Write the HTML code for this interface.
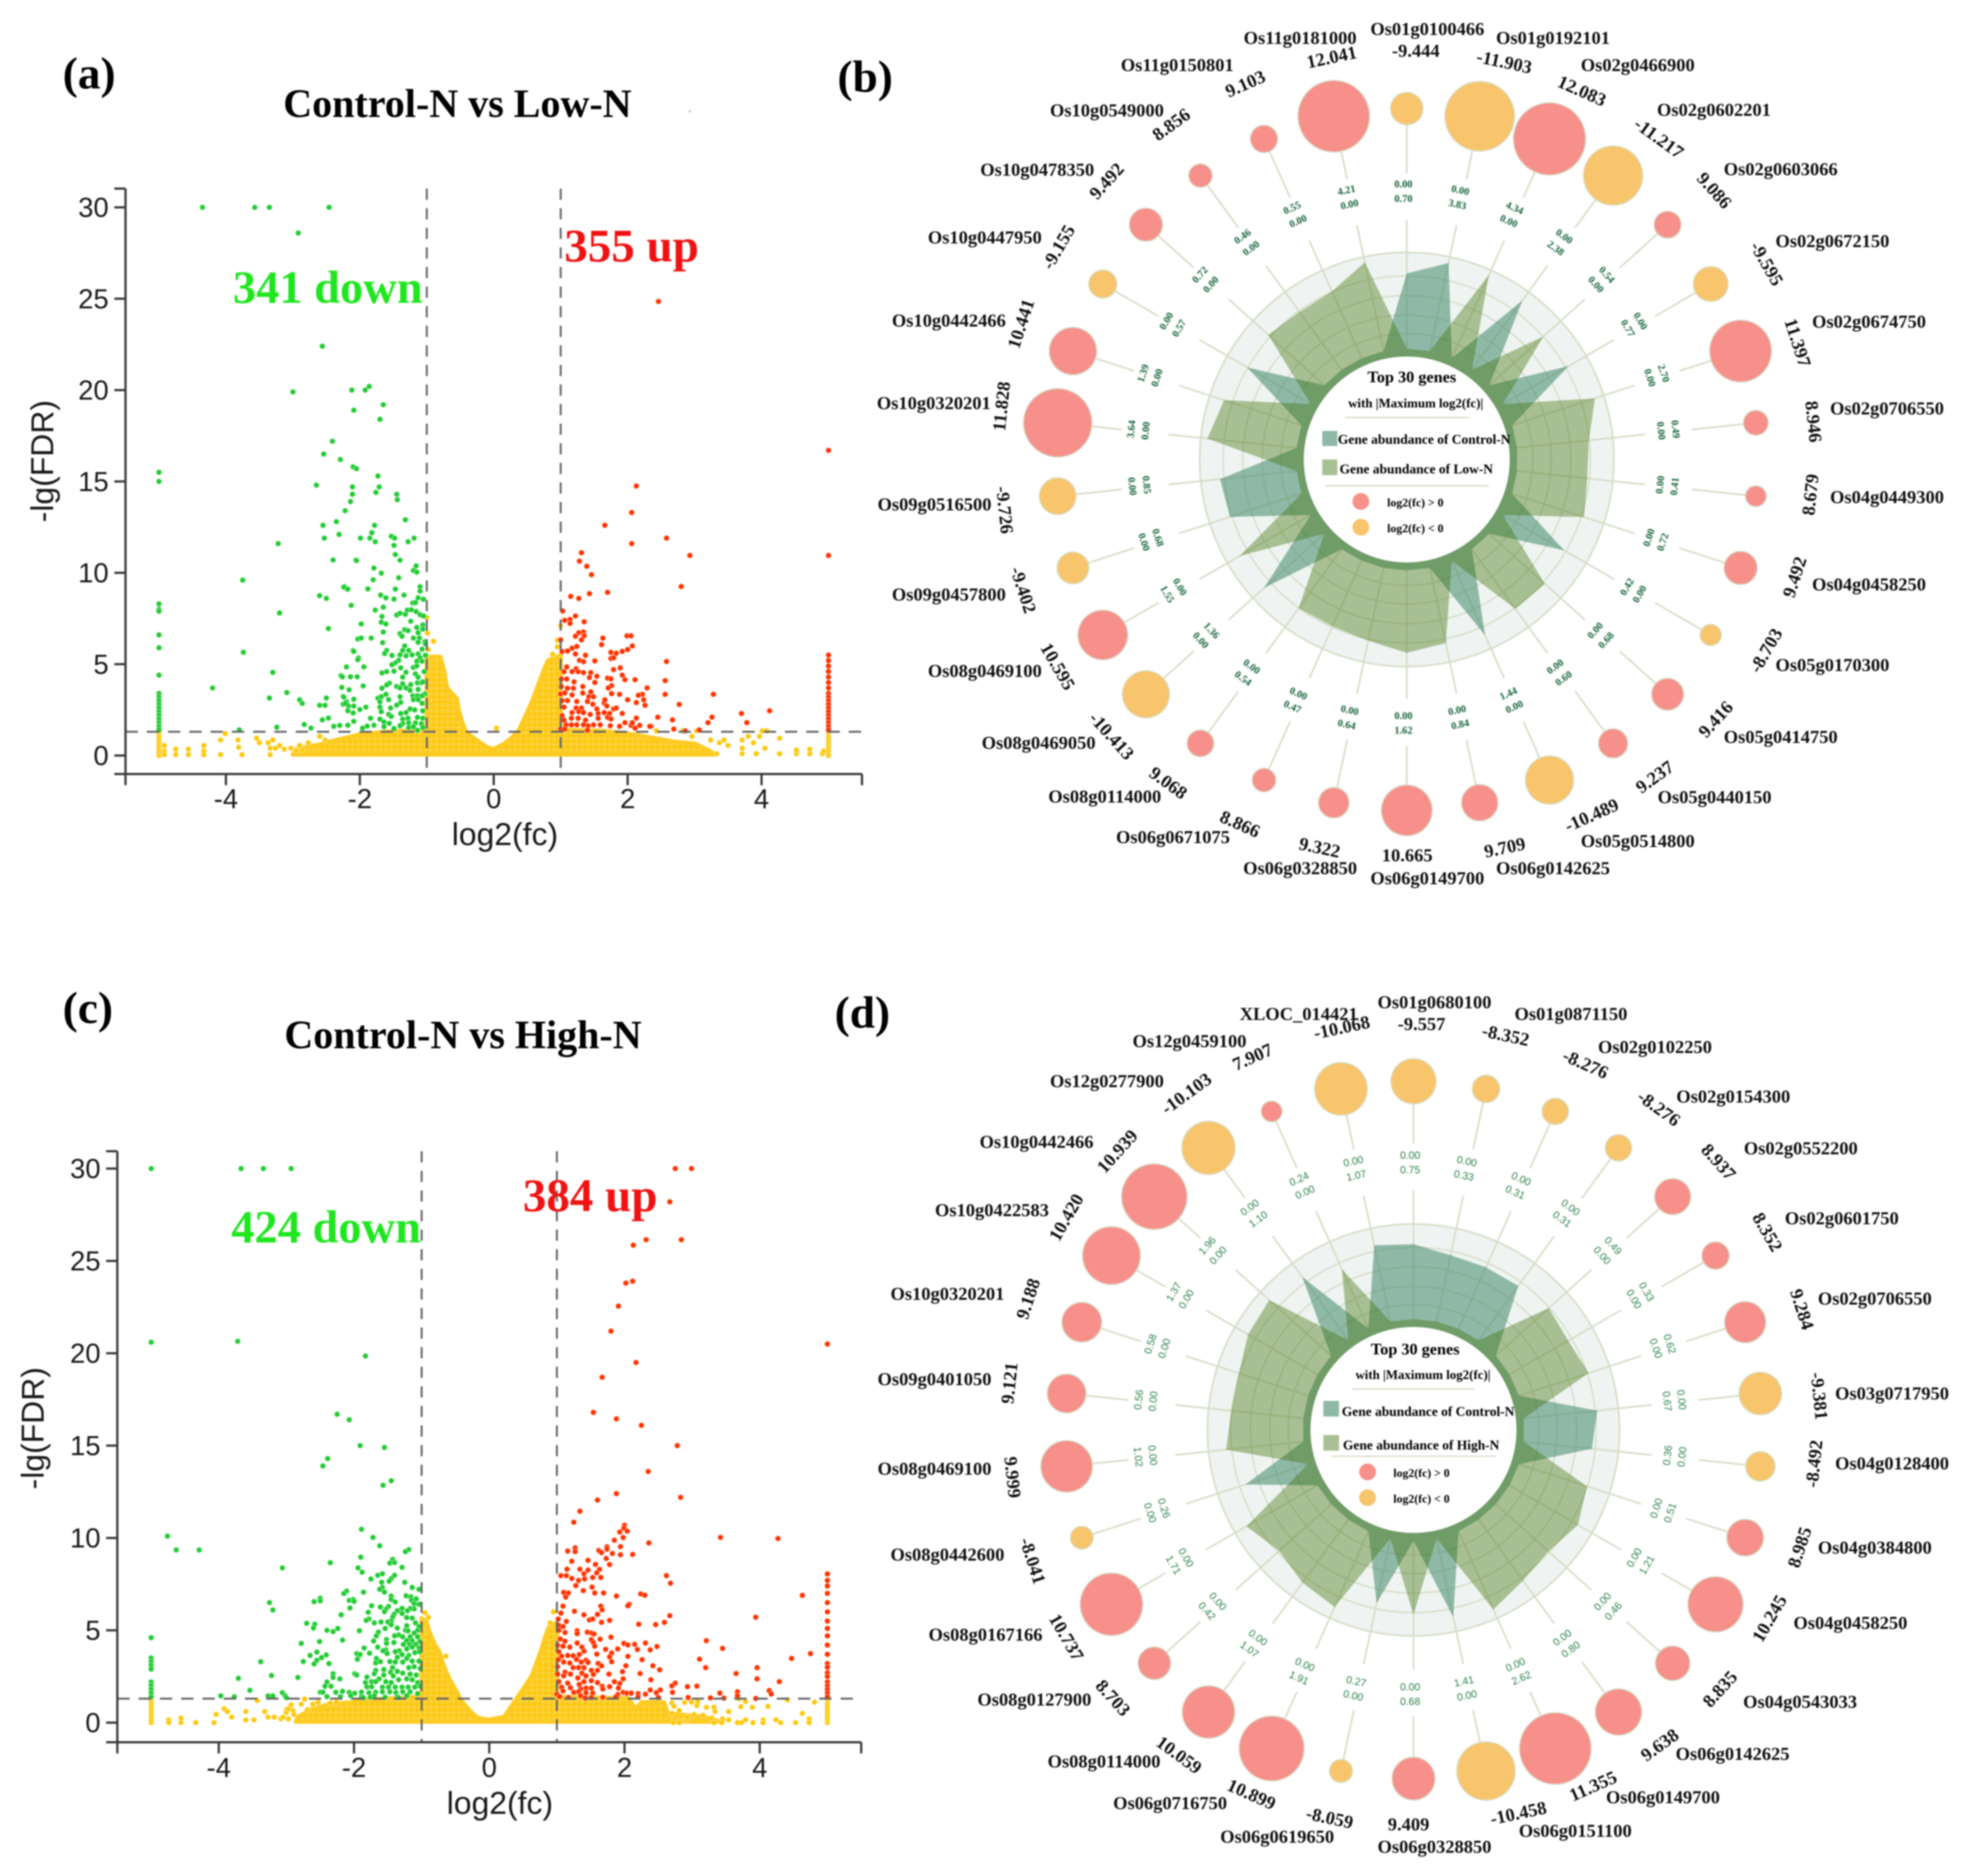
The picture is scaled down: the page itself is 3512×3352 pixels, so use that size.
<!DOCTYPE html>
<html lang="en">
<head>
<meta charset="utf-8">
<title>Volcano plots and radial gene charts</title>
<style>
html,body{margin:0;padding:0;background:#fff;}
svg{display:block;filter:blur(1.4px);}
.serif{font-family:"Liberation Serif",serif;font-weight:bold;}
.sans{font-family:"Liberation Sans",sans-serif;}
</style>
</head>
<body>
<svg id="root" xmlns="http://www.w3.org/2000/svg" width="3512" height="3352" viewBox="0 0 3512 3352">
<rect width="3512" height="3352" fill="#fff"/>
<defs>
<pattern id="yellowDots" patternUnits="userSpaceOnUse" width="10" height="10">
<rect width="10" height="10" fill="#fdd23f"/>
<circle cx="5" cy="5" r="4.2" fill="#fcc80f"/>
</pattern>
</defs>
<text class="serif" x="112" y="158" font-size="81">(a)</text>
<text class="serif" x="1496" y="164" font-size="81">(b)</text>
<text class="serif" x="112" y="1828" font-size="81">(c)</text>
<text class="serif" x="1491" y="1836" font-size="81">(d)</text>
<text class="serif" x="506" y="209" font-size="71.5">Control-N vs Low-N</text>
<text class="serif" x="508" y="1873" font-size="71.5">Control-N vs High-N</text>
<rect x="1230" y="198" width="4" height="2" fill="#999"/>
<g id="panelA"></g>
<g id="panelC"></g>
<g id="panelB"></g>
<g id="panelD"></g>
<text class="serif" x="1008" y="467" font-size="84" fill="#f01212">355 up</text>
<text class="serif" x="416" y="541" font-size="83" fill="#1fe61f">341 down</text>
<text class="serif" x="934" y="2164" font-size="84" fill="#f01212">384 up</text>
<text class="serif" x="413" y="2220" font-size="83" fill="#1fe61f">424 down</text>

<g id="legendB">
<text class="serif" x="2522" y="683" font-size="29" text-anchor="middle">Top 30 genes</text>
<text class="serif" x="2529" y="728" font-size="23" text-anchor="middle">with |Maximum log2(fc)|</text>
<line x1="2403" y1="746" x2="2624" y2="746" stroke="#d7dec8" stroke-width="2.5"/>
<rect x="2362" y="770" width="27" height="27" fill="#8fb9a7"/>
<text class="serif" x="2390" y="793" font-size="24">Gene abundance of Control-N</text>
<rect x="2362" y="821" width="27" height="28" fill="#a9c094"/>
<text class="serif" x="2393" y="846" font-size="24">Gene abundance of Low-N</text>
<line x1="2367" y1="868" x2="2660" y2="868" stroke="#d7dec8" stroke-width="2.5"/>
<circle cx="2431" cy="896" r="15" fill="#f7908a"/>
<text class="serif" x="2478" y="905" font-size="21">log2(fc) &gt; 0</text>
<circle cx="2431" cy="942" r="15" fill="#f8c56c"/>
<text class="serif" x="2478" y="951" font-size="21">log2(fc) &lt; 0</text>
</g>
<g id="legendD">
<text class="serif" x="2528" y="2420" font-size="29" text-anchor="middle">Top 30 genes</text>
<text class="serif" x="2542" y="2464" font-size="23" text-anchor="middle">with |Maximum log2(fc)|</text>
<line x1="2416" y1="2482" x2="2633" y2="2482" stroke="#d7dec8" stroke-width="2.5"/>
<rect x="2364" y="2503" width="28" height="28" fill="#8fb9a7"/>
<text class="serif" x="2397" y="2530" font-size="24">Gene abundance of Control-N</text>
<rect x="2364" y="2564" width="28" height="28" fill="#a9c094"/>
<text class="serif" x="2399" y="2590" font-size="24">Gene abundance of High-N</text>
<line x1="2378" y1="2602" x2="2672" y2="2602" stroke="#d7dec8" stroke-width="2.5"/>
<circle cx="2443" cy="2630" r="15" fill="#f7908a"/>
<text class="serif" x="2489" y="2639" font-size="21">log2(fc) &gt; 0</text>
<circle cx="2443" cy="2676" r="15" fill="#f8c56c"/>
<text class="serif" x="2489" y="2685" font-size="21">log2(fc) &lt; 0</text>
</g>
</svg>
<script>
/* ---------- shared tick labels ---------- */
const xTickValues=[-4,-2,0,2,4];
const yTickValues=[0,5,10,15,20,25,30];

/* ---------- panel (a) volcano values: [log2(fc), -lg(FDR)] ---------- */
const aDown=[[-4.35,30],[-3.57,30],[-3.35,30],[-2.46,30],[-2.92,28.6],[-2.56,22.4],[-3,19.9],[-2.12,20],[-1.92,20],[-1.86,20.2],[-2.09,18.9],[-1.65,19.2],[-1.7,18.4],[-2.41,17.2],[-2.54,16.5],[-2.29,16.2],[-2.1,15.8],[-2.05,15.7],[-2.65,14.8],[-1.73,15.3],[-2.11,14.7],[-1.71,14.7],[-1.76,14.4],[-1.45,14.3],[-1.44,14],[-2.11,14.3],[-2.14,13.9],[-2.22,13.4],[-2.35,12.8],[-2.55,12.6],[-1.78,12.6],[-1.32,12.9],[-3.22,11.6],[-2.53,11.9],[-2.31,12.1],[-1.99,11.9],[-1.82,12.2],[-1.85,11.9],[-1.77,11.7],[-1.53,12],[-1.48,11.9],[-1.49,11.5],[-1.28,11.7],[-1.19,11.9],[-2.4,10.7],[-2.06,10.7],[-1.47,11],[-3.75,9.6],[-2.6,8.75],[-2.5,8.6],[-3.2,7.8],[-2.23,9.25],[-2.19,9.1],[-2.47,6.95],
[-2.05,10.67],[-1.79,10.26],[-1.68,9.98],[-1.8,9.62],[-1.42,9.73],[-1.4,10.69],[-1.16,10.38],[-1.2,10.13],[-1.15,10.04],[-2.24,9.22],[-2.18,9.11],[-1.88,9.12],[-1.47,9.11],[-1.1,9.24],[-1.1,9],[-1.69,8.78],[-1.61,8.63],[-1.49,8.56],[-1.34,8.78],[-1.13,8.63],[-1.05,8.55],[-2.13,8.22],[-1.77,7.96],[-1.65,8.12],[-1.21,8.35],[-1.17,8.37],[-1.45,7.69],[-1.4,7.79],[-1.32,7.73],[-1.29,7.96],[-1.23,7.98],[-1.16,7.88],[-1.1,7.71],[-1.05,7.64],[-1.67,7.61],[-1.98,7.2],[-1.68,7.3],[-1.61,7.2],[-1.24,7.35],[-1.06,7.15],[-1.15,7.01],[-1.06,6.92],[-1.33,6.89],[-1.28,6.84],[-1.65,6.76],[-1.4,6.67],[-1.37,6.53],[-1.13,6.72],[-1.2,6.43],[-1.11,6.43],[-2.03,6.38],[-1.98,6.43],[-1.83,6.43],[-1.13,6.2],[-1.03,6.23],[-1.02,6.11],[-1.66,6.18],[-1.33,6],[-2.1,5.75],[-1.6,5.75],[-1.63,5.58],[-1.36,5.75],[-1.27,5.75],[-1.52,5.48],[-1.4,5.51],[-1.31,5.46],[-1.22,5.51],[-1.13,5.56],[-1.07,5.82],[-1.02,5.49],[-1.1,5.36],[-2.02,5.34],[-1.42,5.21],[-1.47,5.07],[-1.52,4.97],[-1.15,5.16],[-1.07,5.16],[-1.39,4.8],[-2.2,4.85],[-1.94,4.85],[-1.2,4.82],[-1.15,4.9],[-1.49,4.62],[-1.31,4.56],[-1.6,4.59],[-1.67,4.52],[-1.04,4.59],[-1.17,4.47],[-1.13,4.29],[-2.28,4.37],[-2.14,4.31],[-2.04,4.31],[-1.36,4.29],[-1.56,3.96],[-1.6,3.86],[-1.36,3.93],[-1.24,3.88],[-1.14,3.98],[-1.08,3.98],[-1.45,3.78],[-1.4,3.7],[-1.31,3.7],[-1.06,4.03],[-1.95,3.81],[-2.27,3.73],[-1.67,3.68],[-1.13,3.62],[-1.25,3.57],[-1.03,3.37],[-1.61,3.35],[-2.25,3.24],[-1.73,3.14],[-1.68,3.22],[-1.4,3.22],[-1.21,3.27],[-1.14,3.27],[-1.07,3.27],[-2.09,3.08],[-1.57,3.06],[-1.7,2.94],[-1.2,3.06],[-1.13,3.06],[-1.07,2.86],[-2.2,2.94],[-2.25,2.81],[-2.17,2.71],[-2.09,2.71],[-1.39,2.91],[-1.45,2.76],[-1.7,2.65],[-1.91,2.65],[-2,2.52],[-1.54,2.6],[-1.25,2.55],[-1.18,2.5],[-1.06,2.45],[-2.1,2.33],[-1.68,2.4],[-1.57,2.25],[-1.39,2.3],[-1.31,2.35],[-1.53,2.14],[-1.7,1.99],[-1.84,2.04],[-1.36,1.99],[-1.28,2.04],[-1.14,2.09],[-1.06,2.04],[-2.09,1.87],[-1.64,1.84],[-1.56,1.76],[-1.36,1.74],[-1.27,1.79],[-1.17,1.79],[-1.08,1.74],[-2.3,1.65],[-2.18,1.66],[-1.64,1.58],[-1.4,1.63],[-1.27,1.53],[-1.2,1.58],[-1.06,1.53],[-1.89,1.61],[-1.79,1.66],[-1.96,1.5],[-1.49,1.48],[-1.14,1.38],
[-4.2,3.7],[-3.74,5.65],[-3.3,4.55],[-3.35,3.15],[-3.09,3.45],[-2.9,3.05],[-2.86,2.85],[-3.24,1.55],[-3.8,1.4],[-2.83,1.7],[-2.73,1.5],[-2.6,2.75],[-2.5,3.15],[-2.52,2.75],[-2.56,1.95],[-2.47,2.05],[-2.39,1.6],[-2.26,4.3],[-2.16,3.6],[-2.24,3.2],[-2.22,2.85],[-2.18,2.45],[-2.09,5.7],[-2.03,5.25]];
const aDownEdge=[15.5,15,8.3,8,7.9,6.6,5.9,4.4,3.4,3.2,3,2.8,2.6,2.4,2.2,2,1.8,1.6,1.4];
const aUp=[[2.46,24.85],[2.13,14.75],[2.06,13.3],[1.66,12.6],[2.06,11.6],[2.58,11.9],[1.31,11.1],[2.93,10.95],[2.8,9.25],[1.28,10.64],[1.39,10.36],[1.46,9.9],[1.15,8.71],[1.27,8.6],[1.43,8.86],[1.7,8.93],[1.03,7.91],[1.22,7.64],[1.06,7.4],[1.14,7.45],[1.14,7.23],[1.35,7.32],[1.27,6.72],[1.34,6.76],[1.22,6.53],[1.35,6.55],[1.31,6.33],[1.63,6.43],[1,6.33],[1.61,6.07],[1.24,5.97],[1.17,5.87],[1.02,5.69],[1.1,5.72],[1.22,5.56],[1.75,5.65],[1.75,5.31],[1.37,5.49],[1.28,5.21],[1.34,5.14],[1.51,5.18],[1.09,4.85],[1.23,4.75],[1.05,4.59],[1.17,4.59],[1.26,4.59],[1.34,4.54],[1.45,4.54],[1.54,4.34],[1.43,4.27],[1.79,4.7],[1.01,4.19],[1.09,4.19],[1.2,4.03],[1.51,4],[1.7,4.24],[1.01,3.78],[1.1,3.68],[1.19,3.68],[1.33,3.78],[1.76,3.83],[1,3.37],[1.06,3.42],[1.17,3.32],[1.33,3.42],[1.45,3.49],[1.76,3.39],[1.02,3.01],[1.1,3.01],[1.24,2.96],[1.42,3.22],[1.49,3.22],[1.4,2.96],[1.65,2.88],[1.48,2.81],[1.05,2.65],[1.23,2.6],[1.31,2.6],[1.54,2.55],[1.69,2.71],[1.02,2.19],[1.17,2.35],[1.27,2.4],[1.34,2.35],[1.44,2.25],[1.56,2.3],[1.65,2.35],[1.79,2.55],[1.73,2.3],[1.05,1.94],[1.16,2.04],[1.26,2.04],[1.37,1.94],[1.56,2.04],[1.7,2.09],[1,1.45],[1.08,1.68],[1.16,1.68],[1.24,1.68],[1.34,1.68],[1.41,1.63],[1.49,1.68],[1.59,1.68],[1.74,1.63],[1.06,1.45],[1.4,1.38],
[1.99,6.55],[2.05,6.55],[2.07,6],[2,5.8],[1.83,5.6],[1.79,5.35],[1.92,5.7],[1.89,4.8],[1.79,4.7],[1.92,4.4],[2.11,4.15],[1.96,4.15],[1.75,4.2],[1.71,3.7],[1.88,3.35],[2,3.05],[1.66,3.05],[1.83,2.6],[1.92,2.3],[1.75,2],[1.96,1.8],[1.88,1.6],[2.13,2.05],[2.05,1.65],[2.35,1.6],[4.12,2.45],[3.7,2.3],[3.78,1.8],[3.28,3.35],[3.26,2.1],[3.2,1.8],[3.07,1.4],[2.77,2.8],[2.56,4.1],[2.56,3.35],[2.58,5.15],[2.45,2.1],[2.67,1.95],[2.69,1.45],[2.86,1.35],[2.33,1.6],[2.29,3.7],[2.22,3.35],[2.24,3.05],[2.16,3.3],[2.13,2.9],[2.26,2.75],[2.07,1.8],[2.18,1.65],[2.11,1.5]];
const aUpEdge=[16.7,10.95,5.5,5.2,4.9,4.6,4.3,4,3.7,3.4,3.2,3,2.8,2.6,2.4,2.2,2,1.8,1.6,1.4];
const aStable=[[0.04,1.5],[-1,7.55],[-.99,6.7],[-.9,6.25],[-.98,5.8],[1,7.1],[.95,6.3],[.95,5.95],[.88,5.55],
[-4.92,.55],[-4.92,.25],[-4.92,.05],[-4.75,.35],[-4.75,.05],[-4.56,.35],[-4.56,.05],[-4.33,.55],[-4.33,.25],[-4.33,.05],[-4.08,.85],[-4.08,.05],[-4.01,1.2],[-3.82,.85],[-3.81,.45],[-3.76,.05],[-3.54,.95],[-3.5,.7],[-3.37,.7],[-3.3,.85],[-3.34,.4],[-3.34,.05],[-3.2,.55],[-3.13,.35],[-3.03,.4],[-2.9,.55],[-2.77,.7],[-2.6,1.05],[-2.52,.85],[-3.26,.4],[-2.95,.25],[-2.86,.3],
[4.52,.1],[4.72,.1],[4.91,.1],[4.52,.3],[4.72,.35],[4.93,.25],[4.27,.1],[4.27,.95],[4.01,1.35],[4.08,1.35],[3.97,1.05],[3.92,.1],[3.71,.1],[3.71,.4],[3.5,.55],[3.44,.85],[3.37,.7],[3.33,.1],[3.24,.85],[3.71,.85],[3.8,1.05],[3.88,.7],[4.05,.4],[3.03,1.35],[2.96,1.05],[2.82,1.35],[2.43,1.35]];
const aStableEdge=[0,.15,.3,.45,.6,.75,.9,1.05,1.2,1.3];
const aEnvelope=[[-3,.06],[-2.95,.35],[-2.6,.6],[-2.4,.8],[-2,1.15],[-1.6,1.3],[-1,1.4],[-1,5.4],[-.87,5.4],[-.8,5.4],[-.74,4.6],[-.7,3.7],[-.55,3.1],[-.53,2.55],[-.47,1.8],[-.42,1.3],[-.3,.95],[-.2,.7],[-.1,.45],[0,.35],[.14,.6],[.25,.9],[.37,1.35],[.48,2.2],[.59,3.1],[.67,3.9],[.73,4.5],[.81,5.2],[.95,5.4],[1,5.5],[1,1.4],[1.6,1.35],[2,1.2],[2.4,.95],[2.7,.75],[3,.65],[3.2,.3],[3.3,.06]];

/* ---------- panel (c) volcano values ---------- */
const cDown=[[-3.67,30],[-3.34,30],[-2.93,30],[-3.72,20.65],[-1.83,19.85],[-4.76,10.1],[-4.63,9.35],[-4.29,9.35],[-2.25,16.7],[-2.07,16.4],[-1.91,15],[-1.55,14.9],[-2.39,14.3],[-2.46,13.9],[-1.45,13.1],[-1.57,12.85],
[-1.89,10.47],[-1.72,10.03],[-1.62,9.58],[-1.19,9.37],[-1.24,9.26],[-3.06,8.38],[-2.35,8.66],[-1.9,8.96],[-1.43,8.84],[-1.47,8.64],[-1.4,8.67],[-1.29,8.41],[-1.94,8.38],[-1.88,8.15],[-1.65,7.98],[-1.58,8.06],[-1.4,7.98],[-1.45,7.8],[-1.48,7.66],[-1.75,7.78],[-1.59,7.6],[-1.25,7.6],[-1.14,7.32],[-1.04,7.22],[-1.58,7.32],[-1.62,7.22],[-1.55,7.07],[-2.11,7.12],[-2.15,6.99],[-1.86,7.07],[-1.23,6.87],[-1.45,6.85],[-1.16,6.81],[-1.45,6.67],[-1.08,6.7],[-2.5,6.74],[-2.5,6.6],[-2.59,6.55],[-2.07,6.62],[-2.01,6.67],[-2,6.57],[-1.39,6.54],[-1.15,6.62],[-1.11,6.44],[-1.04,6.41],[-2.06,6.21],[-1.74,6.33],[-1.61,6.26],[-1.49,6.29],[-1.53,6.14],[-1.55,6.01],[-1.29,6.19],[-1.36,6.06],[-1.11,6.16],[-1.17,6.18],[-1.21,6.06],[-1.79,5.98],[-2.19,5.84],[-1.29,5.91],[-1.41,5.86],[-1.43,5.71],[-1.22,5.69],[-1.14,5.66],[-1.78,5.61],[-1.82,5.54],[-1.45,5.51],[-1.5,5.45],[-1.6,5.45],[-1.7,5.4],[-1.09,5.4],[-2.7,5.38],[-2.58,5.33],[-2.6,5.12],[-1.45,5.3],[-1.22,5.25],[-1.54,5.1],[-1.36,5.12],[-1.04,5.2],[-2.24,5.1],[-2.4,5],[-2.31,4.93],[-1.92,4.98],[-1.24,5],[-1.2,4.97],[-1.06,5],[-1.64,4.9],[-1.11,4.85],[-1.67,4.7],[-1.34,4.75],[-1.4,4.7],[-1.28,4.65],[-1.17,4.65],[-1.06,4.65],[-1.71,4.42],[-2.17,4.47],[-1.52,4.5],[-2.51,4.39],[-1.22,4.44],[-1.14,4.44],[-1.03,4.39],[-2.78,4.29],[-1.52,4.29],[-1.41,4.34],[-1.27,4.24],[-1.18,4.24],[-1.09,4.24],[-1.65,4.09],[-1.85,4.04],[-1.53,3.94],[-1.14,4.09],[-1.04,4.04],[-1.22,3.99],[-1.33,3.89],[-1.39,3.84],[-1.57,3.89],[-2.55,3.82],[-1.77,3.76],[-1.96,3.74],[-1.91,3.69],[-2.41,3.67],[-2.65,3.64],[-1.51,3.74],[-1.29,3.69],[-1.19,3.64],[-1.03,3.84],[-1.1,3.79],[-2.48,3.52],[-2.55,3.38],[-2.75,3.31],[-1.95,3.43],[-1.67,3.48],[-1.36,3.54],[-1.22,3.48],[-2.59,3.18],[-2.37,3.2],[-1.68,3.23],[-1.61,3.3],[-1.47,3.31],[-1.39,3.28],[-1.28,3.28],[-1.14,3.33],[-1.04,3.33],[-1.43,2.98],[-1.19,2.98],[-1.11,3.03],[-1.02,2.93],[-1.68,2.83],[-1.56,2.88],[-1.36,2.78],[-1.99,2.65],[-2.31,2.65],[-1.7,2.65],[-1.46,2.73],[-1.28,2.68],[-1.96,2.58],[-1.56,2.58],[-1.42,2.53],[-1.17,2.63],[-1.08,2.58],[-2.83,2.45],[-2.31,2.45],[-2.21,2.37],[-1.81,2.47],[-1.63,2.37],[-1.34,2.32],[-1.22,2.37],[-1.14,2.32],[-2.4,2.2],[-1.83,2.17],[-1.74,2.22],[-1.68,2.22],[-1.53,2.22],[-1.45,2.17],[-1.06,2.17],[-2.43,1.97],[-2.34,1.97],[-1.81,1.94],[-1.74,1.94],[-1.58,1.92],[-1.49,1.92],[-1.39,1.92],[-1.29,1.92],[-1.2,1.92],[-1.1,1.92],[-1.02,1.97],[-3.06,1.62],[-2.5,1.65],[-2.46,1.65],[-2.27,1.65],[-2.17,1.7],[-2.07,1.64],[-1.99,1.59],[-1.89,1.65],[-1.78,1.62],[-1.68,1.65],[-1.58,1.67],[-1.47,1.67],[-1.38,1.62],[-1.28,1.67],[-1.17,1.67],[-1.06,1.57],[-3.02,1.46],[-2.05,1.46],[-2.4,1.41],[-2.2,1.41],[-1.89,1.41],[-1.7,1.46],[-1.54,1.38],[-1.36,1.41],[-1.22,1.46],[-3,1.35],[-1.86,1.35],[-1.76,1.38],[-1.34,1.35],
[-3.25,6.5],[-3.2,6.1],[-3.38,3.3],[-3.22,2.55],[-3.71,2.4],[-3.54,1.75],[-3.97,1.45],[-3.77,1.4],[-3.27,1.45],[-3.2,1.45]];
const cDownEdge=[30,20.6,4.6,3.5,3.3,3.1,2.9,2.2,2,1.8,1.6,1.4];
const cUp=[[2.75,30],[2.99,30],[2.67,28.2],[2.32,26.15],[2.84,26.15],[2.13,25.85],[2.02,23.8],[2.12,23.9],[1.91,22.55],[1.8,21.2],[2.17,19.5],[1.67,18.7],[1.54,16.8],[1.88,16.45],[2.25,16.1],[2.78,15],[2.35,13.6],[1.88,12.4],[2.83,12.2],[1.6,12.05],[1.34,11.45],[1.25,10.85],
[2,10.69],[1.99,10.53],[1.93,10.32],[2.04,10.37],[1.98,10.02],[1.85,9.88],[2.36,9.73],[3.42,10.03],[4.27,9.97],[1.74,9.52],[1.94,9.53],[1.27,9.46],[1.27,9.26],[1.16,9.29],[1.62,9.32],[1.66,9.21],[1.74,9.39],[1.82,9.16],[1.94,9.09],[2.12,9.11],[1.73,8.89],[1.22,8.74],[1.46,8.79],[1.57,8.57],[1.78,8.56],[1.15,8.31],[1.34,8.31],[1.46,8.26],[1.63,8.3],[1.4,8.06],[1.59,8.11],[1.06,7.96],[1.14,7.96],[2.62,7.96],[1.22,7.81],[1.41,7.78],[1.53,7.86],[1.65,7.86],[1.32,7.7],[2.68,7.55],[1.28,7.42],[1.52,7.34],[1.39,7.15],[1.1,7.05],[1.17,7.02],[1.56,7.02],[1.69,7.02],[1.13,6.8],[1.88,6.85],[2.24,6.97],[2.3,6.9],[4.63,6.89],[1.09,6.31],[1.65,6.31],[2.07,6.41],[2.05,6.33],[1.67,6.11],[1.26,6.03],[1.06,5.93],[1.4,5.84],[1.6,5.86],[2.67,5.79],[3.94,5.71],[1.02,5.61],[1.14,5.48],[1.48,5.56],[1.53,5.61],[1.66,5.43],[1.78,5.54],[2.59,5.43],[2.21,5.33],[2.46,5.31],[1.03,5.27],[1.09,5.2],[1.03,5],[1.12,4.88],[1.3,4.98],[1.3,4.82],[1.45,4.9],[1.51,4.85],[1.55,4.8],[1.8,4.63],[1.05,4.53],[1.64,4.52],[1.51,4.49],[3.21,4.44],[1.12,4.41],[1.54,4.34],[1.3,4.31],[1.99,4.29],[2.05,4.21],[2.15,4.24],[2.31,4.31],[1.01,4.19],[1.09,4.14],[1.19,4.09],[1.56,4.14],[1.37,4.09],[2.48,4.12],[3.45,4.02],[1.9,3.99],[1.72,3.97],[2.19,3.96],[2.38,3.94],[1.4,3.87],[1.03,3.84],[1.81,3.77],[4.75,3.74],[1.59,3.71],[1.33,3.69],[1.16,3.64],[1.24,3.62],[1.07,3.59],[2.05,3.59],[1.78,3.56],[4.47,3.48],[3.11,3.44],[2.26,3.41],[1.29,3.43],[1.02,3.41],[1.43,3.38],[1.1,3.28],[1.19,3.23],[1.36,3.28],[1.46,3.26],[1.81,3.3],[1.61,3.21],[1.66,3.08],[2.02,3.08],[2.42,3.08],[1.01,3.03],[1.24,2.98],[1.32,2.98],[1.4,2.98],[3.2,2.98],[3.96,2.98],[2.52,2.86],[1.51,2.83],[1.6,2.83],[1.97,2.76],[1.12,2.73],[1.37,2.68],[1.2,2.63],[1.54,2.61],[1.77,2.63],[2.23,2.66],[3.65,2.66],[1.01,2.63],[1.1,2.53],[1.43,2.53],[1.31,2.42],[1.98,2.37],[3.96,2.37],[2.39,2.32],[1.51,2.27],[1.4,2.22],[1.03,2.22],[1.85,2.22],[4.29,2.22],[1.6,2.17],[1.16,2.14],[2.75,2.14],[1.93,2.12],[1.33,2.07],[1.67,1.97],[1.78,1.95],[2.7,1.99],[2.93,1.95],[3.07,1.98],[1.07,1.92],[1.2,1.89],[1.91,1.87],[1.43,1.87],[1.51,1.87],[1.35,1.82],[1.68,1.82],[2.38,1.77],[2.53,1.77],[4.14,1.74],[1.09,1.72],[2.71,1.64],[3.67,1.67],[3.41,1.6],[4.17,1.55],[1.25,1.64],[1.32,1.67],[1.43,1.62],[1.53,1.6],[1.9,1.52],[1.98,1.64],[2.03,1.6],[2.1,1.6],[2.2,1.57],[2.31,1.54],[2.47,1.62],[1,1.54],[1.04,1.41],[1.17,1.36],[1.35,1.46],[1.42,1.33],[1.51,1.36],[1.68,1.38],[1.87,1.39],[2.2,1.39],[2.5,1.36],[2.94,1.36],[3.27,1.34],[3.47,1.33],[3.67,1.46],[3.94,1.31]];
const cUpEdge=[20.5,8.05,7.7,7.4,7,6.5,6,5.5,5.1,4.7,4.2,3.7,3.2,3,2.7,2.5,2.2,2,1.8,1.6,1.4];
const cStable=[[-.95,5.95],[-.9,5.7],[.95,6],[.9,5.4],[-.64,3.6],
[-2.73,1.28],[-2.78,1],[-2.93,.96],[-3,.7],[-3,.55],[-2.9,.65],[-3.08,.2],[-2.97,.2],[-2.69,.7],[-2.53,1.1],[-2.61,1],[-2.35,1.06],[-2.26,1.1],[-4.74,.15],[-4.74,0],[-4.56,.25],[-4.56,0],[-4.34,0],[-4.07,0],[-4.04,.45],[-3.92,.75],[-3.87,.6],[-3.81,.3],[-3.6,.6],[-3.6,.15],[-3.48,.15],[-3.43,1.2],[-3.32,.6],[-3.27,.3],[-3.18,.3],[-2.97,.75],[-3.05,.3],[-2.89,.45],
[2.7,1.06],[2.73,.89],[2.89,1.09],[2.99,1.11],[3.07,.93],[3.08,1.16],[3.21,.83],[3.32,.83],[3.34,.6],[3.54,.6],[3.69,1.29],[3.79,1.14],[3.72,.86],[3.89,.83],[4.12,.88],[4.41,1.23],[4.81,1.11],[4.63,.5],[4.73,.2],[4.73,0],[4.53,0],[4.31,0],[4.24,.15],[4.05,.15],[4.05,0],[3.9,0],[3.79,.15],[3.73,0],[3.67,0],[3.54,.15],[3.45,.2],[3.44,0],[3.32,0],[3.29,.25],[3.16,.4],[3.03,.45],[2.92,.15],[2.81,.66],[2.72,0],[2.81,0],[2.7,.5],[2.93,.3]];
const cStableEdge=[0,.15,.3,.45,.6,.75,.9,1.05,1.2,1.3];
const cEnvelope=[[-2.86,.06],[-2.83,.3],[-2.64,.7],[-2.36,1],[-2,1.1],[-1.92,1.2],[-1.45,1.31],[-1,1.4],[-1,5.65],[-.93,5.45],[-.89,4.95],[-.81,4.24],[-.74,3.84],[-.68,3.13],[-.6,2.42],[-.49,1.72],[-.42,1.21],[-.28,.6],[-.17,.25],[0,.15],[.22,.3],[.35,1],[.52,1.92],[.63,2.53],[.71,3.33],[.77,3.94],[.83,4.65],[.88,5.15],[.96,5.35],[1,5.35],[1,1.4],[2.06,1.31],[2.17,.7],[2.25,1.1],[2.58,1.1],[2.64,.5],[3.19,.3],[3.33,.15],[3.4,.06]];

/* ---------- panel (b) radial values (clockwise from top) ---------- */
const bGenes=["Os01g0100466","Os01g0192101","Os02g0466900","Os02g0602201","Os02g0603066","Os02g0672150","Os02g0674750","Os02g0706550","Os04g0449300","Os04g0458250","Os05g0170300","Os05g0414750","Os05g0440150","Os05g0514800","Os06g0142625","Os06g0149700","Os06g0328850","Os06g0671075","Os08g0114000","Os08g0469050","Os08g0469100","Os09g0457800","Os09g0516500","Os10g0320201","Os10g0442466","Os10g0447950","Os10g0478350","Os10g0549000","Os11g0150801","Os11g0181000"];
const bFc=["-9.444","-11.903","12.083","-11.217","9.086","-9.595","11.397","8.946","8.679","9.492","-8.703","9.416","9.237","-10.489","9.709","10.665","9.322","8.866","9.068","-10.413","10.595","-9.402","-9.726","11.828","10.441","-9.155","9.492","8.856","9.103","12.041"];
const bControl=[.70,3.83,0,2.38,0,.77,0,0,0,0,.42,0,0,1.44,0,0,0,0,0,1.36,0,.68,.85,0,0,.57,0,0,0,0];
const bLow=[0,0,4.34,0,.54,0,2.70,.49,.41,.72,0,.68,.60,0,.84,1.62,.64,.47,.54,0,1.55,0,0,3.64,1.39,0,.72,.46,.55,4.21];
/* label layout only, in px of the 0.7793 x 0.9503 reduced panel crop */
const bNameLayout=[[818,50],[993,65],[1111,111],[1217,187],[1310,288],[1382,410],[1433,547],[1458,694],[1458,845],[1433,993],[1382,1130],[1310,1252],[1218,1354],[1111,1429],[993,1475],[818,1492],[641,1475],[464,1422],[369,1353],[277,1262],[202,1140],[152,1010],[132,857],[131,685],[152,545],[202,404],[275,289],[372,188],[470,111],[641,65]];
const bValueLayout=[[802,87],[925,106],[1033,155],[1140,235],[1217,324],[1290,448],[1333,582],[1355,716],[1352,840],[1330,980],[1290,1105],[1220,1222],[1135,1320],[1047,1385],[926,1440],[790,1453],[668,1440],[557,1400],[457,1330],[378,1250],[303,1132],[255,1002],[229,866],[226,690],[253,550],[305,420],[372,308],[462,212],[565,143],[685,98]];

/* ---------- panel (d) radial values ---------- */
const dGenes=["Os01g0680100","Os01g0871150","Os02g0102250","Os02g0154300","Os02g0552200","Os02g0601750","Os02g0706550","Os03g0717950","Os04g0128400","Os04g0384800","Os04g0458250","Os04g0543033","Os06g0142625","Os06g0149700","Os06g0151100","Os06g0328850","Os06g0619650","Os06g0716750","Os08g0114000","Os08g0127900","Os08g0167166","Os08g0442600","Os08g0469100","Os09g0401050","Os10g0320201","Os10g0422583","Os10g0442466","Os12g0277900","Os12g0459100","XLOC_014421"];
const dFc=["-9.557","-8.352","-8.276","-8.276","8.937","8.352","9.284","-9.381","-8.492","8.985","10.245","8.835","9.638","11.355","-10.458","9.409","-8.059","10.899","10.059","8.703","10.737","-8.041","9.999","9.121","9.188","10.420","10.939","-10.103","7.907","-10.068"];
const dControl=[.75,.33,.31,.31,0,0,0,.67,.36,0,0,0,0,0,1.41,0,.27,0,0,0,0,.26,0,0,0,0,0,1.10,0,1.07];
const dHigh=[0,0,0,0,.49,.33,.62,0,0,.51,1.21,.46,.80,2.62,0,.68,0,1.91,1.07,.42,1.71,0,1.02,.56,.58,1.37,1.96,0,.24,0];
const dNameLayout=[[828,87],[1018,107],[1135,163],[1244,247],[1338,335],[1395,454],[1441,590],[1465,751],[1465,870],[1441,1013],[1407,1141],[1337,1275],[1243,1363],[1146,1437],[1024,1494],[828,1521],[609,1504],[460,1447],[368,1376],[271,1271],[203,1161],[150,1025],[132,879],[132,727],[150,582],[212,440],[274,324],[372,221],[487,153],[639,107]];
const dValueLayout=[[810,124],[927,143],[1038,192],[1140,267],[1223,358],[1291,477],[1339,608],[1363,755],[1357,870],[1337,1012],[1295,1133],[1226,1253],[1142,1348],[1049,1418],[945,1464],[792,1483],[682,1472],[573,1432],[472,1365],[380,1268],[315,1165],[268,1035],[240,893],[237,733],[263,590],[316,452],[387,340],[483,242],[575,180],[699,130]];

const NS='http://www.w3.org/2000/svg';
function add(parent,tag,attrs,text){
  const el=document.createElementNS(NS,tag);
  for(const k in attrs){el.setAttribute(k,attrs[k]);}
  
  if(text!==undefined){el.textContent=text;}
  parent.appendChild(el);
  return el;
}

function drawVolcano(g,o){
  const xa=v=>o.x0+o.xs*v;
  const ya=v=>o.y0-o.ys*v;
  const axisColor='#3a3a3a';
  const env=o.envelope.map(p=>xa(p[0]).toFixed(1)+','+ya(p[1]).toFixed(1)).join(' ');
  const area=add(g,'polygon',{points:env,fill:'url(#yellowDots)',stroke:'#fdcb22','stroke-width':8,'stroke-linejoin':'round'});
  
  function dots(list,color,name){
    list.forEach(p=>{
      const c=add(g,'circle',{cx:xa(p[0]).toFixed(1),cy:ya(p[1]).toFixed(1),r:5,fill:color,stroke:'rgba(255,255,255,.55)','stroke-width':1});
      
    });
  }
  dots(o.stable,'#fdc90f','not-significant-point');
  dots(o.stableEdge.map(v=>[-5,v]),'#fdc90f','not-significant-point');
  dots(o.stableEdge.map(v=>[5,v]),'#fdc90f','not-significant-point');
  dots(o.down,'#22cc33','down-gene-point');
  dots(o.downEdge.map(v=>[-5,v]),'#22cc33','down-gene-point');
  dots(o.up,'#ff3300','up-gene-point');
  dots(o.upEdge.map(v=>[5,v]),'#ff3300','up-gene-point');
  [-1,1].forEach(v=>{
    const l=add(g,'line',{x1:xa(v),y1:o.top,x2:xa(v),y2:ya(0)+33,stroke:'#666','stroke-width':3.5,'stroke-dasharray':'20 15'});
    
  });
  const h=add(g,'line',{x1:xa(-5.5),y1:ya(1.3),x2:xa(5.5),y2:ya(1.3),stroke:'#666','stroke-width':3.5,'stroke-dasharray':'22 16'});
  
  const ax=add(g,'line',{x1:xa(-5.5)-20,y1:o.axisY,x2:xa(5.5),y2:o.axisY,stroke:axisColor,'stroke-width':4});
  
  const ay=add(g,'line',{x1:xa(-5.5),y1:o.top,x2:xa(-5.5),y2:o.axisY,stroke:axisColor,'stroke-width':4});
  
  [-5.5,5.5].forEach(v=>{
    const t=add(g,'line',{x1:xa(v),y1:o.axisY,x2:xa(v),y2:o.axisY+20,stroke:axisColor,'stroke-width':4});
    
  });
  const tt=add(g,'line',{x1:xa(-5.5)-20,y1:o.top,x2:xa(-5.5),y2:o.top,stroke:axisColor,'stroke-width':4});
  
  xTickValues.forEach(v=>{
    const t=add(g,'line',{x1:xa(v),y1:o.axisY,x2:xa(v),y2:o.axisY+20,stroke:axisColor,'stroke-width':4});
    
    const l=add(g,'text',{x:xa(v),y:o.xLabelY,'font-size':49,'text-anchor':'middle','class':'sans',fill:'#1a1a1a'},String(v));
    
  });
  yTickValues.forEach(v=>{
    const t=add(g,'line',{x1:xa(-5.5)-20,y1:ya(v),x2:xa(-5.5),y2:ya(v),stroke:axisColor,'stroke-width':4});
    
    const l=add(g,'text',{x:xa(-5.5)-30,y:ya(v)+17,'font-size':49,'text-anchor':'end','class':'sans',fill:'#1a1a1a'},String(v));
    
  });
  const xt=add(g,'text',{x:o.xTitleX,y:o.xTitleY,'font-size':57,'text-anchor':'middle','class':'sans',fill:'#1a1a1a'},'log2(fc)');
  
  const yt=add(g,'text',{x:o.yTitleX,y:o.yTitleY,'font-size':57,'text-anchor':'middle','class':'sans',fill:'#1a1a1a',transform:'rotate(-90 '+o.yTitleX+' '+o.yTitleY+')'},'-lg(FDR)');
  
}

drawVolcano(document.getElementById('panelA'),{x0:882,xs:119.6,y0:1350,ys:32.65,top:337,axisY:1383,xLabelY:1444,xTitleX:902,xTitleY:1510,yTitleX:95,yTitleY:824,down:aDown,downEdge:aDownEdge,up:aUp,upEdge:aUpEdge,stable:aStable,stableEdge:aStableEdge,envelope:aEnvelope});
drawVolcano(document.getElementById('panelC'),{x0:874,xs:120.8,y0:3078,ys:33,top:2057,axisY:3113,xLabelY:3175,xTitleX:893,xTitleY:3241,yTitleX:78,yTitleY:2552,down:cDown,downEdge:cDownEdge,up:cUp,upEdge:cUpEdge,stable:cStable,stableEdge:cStableEdge,envelope:cEnvelope});

function drawRadial(g,o){
  const n=o.genes.length;
  const rad=i=>i*2*Math.PI/n;
  const px=(i,r)=>o.cx+r*Math.sin(rad(i));
  const py=(i,r)=>o.cy-r*Math.cos(rad(i));
  const rAbund=v=>v>0?o.k*(338+15.5*Math.log(v)):o.r0;
  const rBubble=s=>o.bMin+o.bSlope*(Math.abs(parseFloat(s))-o.vMin);
  const lineColor='#d6ddc7';
  const disc=add(g,'circle',{cx:o.cx,cy:o.cy,r:o.R,fill:'#eff4f2',stroke:lineColor,'stroke-width':3});
  
  [328,293,258,225].forEach(r=>{
    const c=add(g,'circle',{cx:o.cx,cy:o.cy,r:r*o.k,fill:'none',stroke:lineColor,'stroke-width':2.5});
    
  });
  for(let i=0;i<n;i++){
    const s=add(g,'line',{x1:px(i,o.r0),y1:py(i,o.r0),x2:px(i,428),y2:py(i,428),stroke:lineColor,'stroke-width':3});
    
  }
  function poly(vals,fill,op,name){
    const pts=vals.map((v,i)=>px(i,rAbund(v)).toFixed(1)+','+py(i,rAbund(v)).toFixed(1)).join(' ');
    const p=add(g,'polygon',{points:pts,fill:fill,'fill-opacity':op});
    
  }
  poly(o.control,'rgb(47,126,92)',.5,'control-abundance-area');
  poly(o.treat,'rgb(62,112,7)',.4,'treatment-abundance-area');
  const hole=add(g,'circle',{cx:o.cx,cy:o.cy,r:184,fill:'#fff'});
  
  for(let i=0;i<n;i++){
    const br=rBubble(o.fc[i]);
    const neg=o.fc[i][0]==='-';
    const sp=add(g,'line',{x1:px(i,512),y1:py(i,512),x2:px(i,o.bubbleR-br),y2:py(i,o.bubbleR-br),stroke:lineColor,'stroke-width':3});
    
    const b=add(g,'circle',{cx:px(i,o.bubbleR),cy:py(i,o.bubbleR),r:br,fill:neg?'#f8c56c':'#f7908a',stroke:lineColor,'stroke-width':2});
    
    const a=i*360/n;
    const lower=a>90&&a<270;
    const rot=lower?a-180:a;
    const ctr=[px(i,475)-6,py(i,475)-3];
    const outerLine=[ctr[0]+13*Math.sin(rad(i)),ctr[1]-13*Math.cos(rad(i))];
    const innerLine=[ctr[0]-13*Math.sin(rad(i)),ctr[1]+13*Math.cos(rad(i))];
    const smallAttrs=o.smallSerif?{'class':'serif',fill:'#17653a'}:{'class':'sans',fill:'#2c8049'};
    const t1=add(g,'text',Object.assign({x:outerLine[0].toFixed(1),y:outerLine[1].toFixed(1),'font-size':18.5,'text-anchor':'middle','dominant-baseline':'central',transform:'rotate('+rot+' '+outerLine[0].toFixed(1)+' '+outerLine[1].toFixed(1)+')'},smallAttrs),o.treat[i].toFixed(2));
    
    const t2=add(g,'text',Object.assign({x:innerLine[0].toFixed(1),y:innerLine[1].toFixed(1),'font-size':18.5,'text-anchor':'middle','dominant-baseline':'central',transform:'rotate('+rot+' '+innerLine[0].toFixed(1)+' '+innerLine[1].toFixed(1)+')'},smallAttrs),o.control[i].toFixed(2));
    
    const vx=1500+o.valueLayout[i][0]/.7793, vy=o.offY+o.valueLayout[i][1]/.9503;
    const vt=add(g,'text',{x:vx.toFixed(1),y:vy.toFixed(1),'font-size':33,'text-anchor':'middle','dominant-baseline':'central','class':'serif',fill:'#111',transform:'rotate('+rot+' '+vx.toFixed(1)+' '+vy.toFixed(1)+')'},o.fc[i]);
    
    const nx=1500+o.nameLayout[i][0]/.7793, ny=o.offY+o.nameLayout[i][1]/.9503;
    const nt=add(g,'text',{x:nx.toFixed(1),y:ny.toFixed(1),'font-size':33,'text-anchor':'middle','dominant-baseline':'central','class':'serif',fill:'#111'},o.genes[i]);
    
  }
}

drawRadial(document.getElementById('panelB'),{cx:2513,cy:821,R:370,k:1,r0:198,bubbleR:627,bMin:18.6,bSlope:13.5,vMin:8.679,offY:0,genes:bGenes,fc:bFc,control:bControl,treat:bLow,nameLayout:bNameLayout,valueLayout:bValueLayout,smallSerif:true});
drawRadial(document.getElementById('panelD'),{cx:2525,cy:2555,R:368,k:.995,r0:198,bubbleR:623,bMin:18.6,bSlope:13.17,vMin:7.907,offY:1700,genes:dGenes,fc:dFc,control:dControl,treat:dHigh,nameLayout:dNameLayout,valueLayout:dValueLayout,smallSerif:false});
</script>
</body>
</html>
